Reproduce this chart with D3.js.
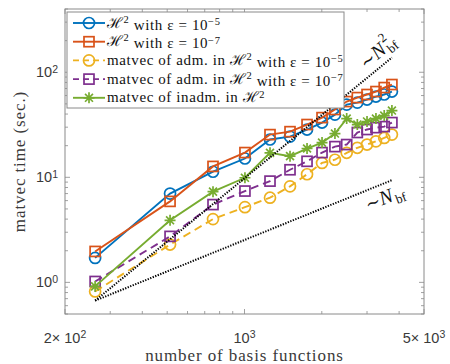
<!DOCTYPE html>
<html>
<head>
<meta charset="utf-8">
<script src="https://cdn.jsdelivr.net/npm/d3@7"></script>
<style>
  html, body { margin: 0; padding: 0; background: #fff; }
  svg { display: block; }
</style>
</head>
<body>
<div class="chart_wrapper"></div>
<script>
// number of basis functions (x) and timings (y, seconds)
const nbf = [262, 513, 754, 1004, 1257, 1504, 1752, 2004, 2250, 2500, 2750, 3000, 3250, 3500, 3750]
const h2Eps5 = [1.71, 7.0, 11.3, 15.1, 22.9, 24.4, 28.5, 33.2, 39.5, 49.2, 51.4, 55, 58.7, 61.4, 65.5]
const h2Eps7 = [1.97, 5.9, 12.7, 17.2, 25.5, 27.2, 31.8, 37, 44.2, 52.6, 57.4, 61.4, 65.5, 71.5, 76.4]
const admEps5 = [0.82, 2.29, 4.0, 5.2, 6.4, 8.2, 10.7, 13.7, 14.7, 17.1, 19.1, 20.5, 22, 23.7, 25.5]
const admEps7 = [1.02, 2.74, 5.5, 7.4, 9.2, 11.8, 14.2, 17.2, 19.6, 20.5, 26.7, 28.5, 29.7, 30.4, 33.2]
const inadm = [0.916, 3.9, 7.3, 9.9, 17.1, 15.9, 18.8, 21.4, 26.1, 36.2, 31.8, 34, 36.2, 38.7, 43.2]

// reference slopes, end points
const refX = [262, 3750]
const refN2 = [0.67, 138]
const refN = [0.67, 9.4]

const legendLabels = [
    'ℋ^{2} with ε = 10^{−5}',
    'ℋ^{2} with ε = 10^{−7}',
    'matvec of adm. in ℋ^{2} with ε = 10^{−5}',
    'matvec of adm. in ℋ^{2} with ε = 10^{−7}',
    'matvec of inadm. in ℋ^{2}'
]
const xTickVals = [200, 1000, 5000]
const xTickLabels = ['2× 10^{2}', '10^{3}', '5× 10^{3}']
const yTickVals = [1, 10, 100]
const yTickLabels = ['10^{0}', '10^{1}', '10^{2}']

const series = [
    { values: h2Eps5, color: '#0072BD', marker: 'circle', dash: null },
    { values: h2Eps7, color: '#D95319', marker: 'square', dash: null },
    { values: admEps5, color: '#EDB120', marker: 'circle', dash: '8,5' },
    { values: admEps7, color: '#7E2F8E', marker: 'square', dash: '8,5' },
    { values: inadm, color: '#77AC30', marker: 'star', dash: null }
]

const width = 450
const height = 364
const margin = { left: 65, right: 26, top: 9, bottom: 50 }
const axisColor = '#8a8a8a'
const textColor = '#3a3a3a'
const serif = '"Liberation Serif", "DejaVu Serif", serif'
const sans = '"Liberation Sans", Arial, sans-serif'

const x = d3.scaleLog().domain([200, 5000]).range([margin.left, width - margin.right])
const y = d3.scaleLog().domain([0.5, 400]).range([height - margin.bottom, margin.top])

const svg = d3.select('.chart_wrapper').append('svg')
    .attr('width', width).attr('height', height)

// writes "a^{b}" strings as tspans
function richText(sel, str, supSize) {
    const parts = str.split(/\^\{([^}]*)\}/)
    parts.forEach((p, i) => {
        if (!p) return
        const sup = i % 2 === 1
        const t = sel.append('tspan').text(p)
        if (sup) {
            t.attr('font-size', supSize).attr('dy', '-0.45em')
        } else if (i > 0) {
            t.attr('dy', '0.45em')
        }
    })
}

const x0 = margin.left, x1 = width - margin.right
const y0 = height - margin.bottom, y1 = margin.top

// ticks (inward, on all four sides)
const ticksG = svg.append('g').attr('stroke', axisColor).attr('stroke-width', 0.8)
const xMinor = x.ticks().filter(v => v >= 200 && v <= 5000)
xMinor.forEach(v => {
    const len = xTickVals.includes(v) ? 5 : 3
    ticksG.append('line').attr('x1', x(v)).attr('x2', x(v)).attr('y1', y0).attr('y2', y0 - len)
    ticksG.append('line').attr('x1', x(v)).attr('x2', x(v)).attr('y1', y1).attr('y2', y1 + len)
})
const yMinor = y.ticks().filter(v => v >= 0.5 && v <= 400)
yMinor.forEach(v => {
    const len = yTickVals.includes(v) ? 5 : 3
    ticksG.append('line').attr('y1', y(v)).attr('y2', y(v)).attr('x1', x0).attr('x2', x0 + len)
    ticksG.append('line').attr('y1', y(v)).attr('y2', y(v)).attr('x1', x1).attr('x2', x1 - len)
})

// box
svg.append('rect')
    .attr('x', x0).attr('y', y1).attr('width', x1 - x0).attr('height', y0 - y1)
    .attr('fill', 'none').attr('stroke', axisColor).attr('stroke-width', 1)

// tick labels
const xLab = svg.append('g').attr('font-family', sans).attr('font-size', 14.5).attr('fill', textColor)
    .attr('text-anchor', 'middle')
xTickVals.forEach((v, i) => {
    const t = xLab.append('text').attr('x', x(v)).attr('y', y0 + 29)
    richText(t, xTickLabels[i], 10.5)
})
const yLab = svg.append('g').attr('font-family', sans).attr('font-size', 14.5).attr('fill', textColor)
    .attr('text-anchor', 'end')
yTickVals.forEach((v, i) => {
    const t = yLab.append('text').attr('x', x0 - 7).attr('y', y(v) + 5)
    richText(t, yTickLabels[i], 10.5)
})

// axis titles
svg.append('text')
    .attr('x', (x0 + x1) / 2).attr('y', height - 3)
    .attr('text-anchor', 'middle').attr('font-family', serif).attr('font-size', 17)
    .attr('letter-spacing', 0.9).attr('fill', textColor)
    .text('number of basis functions')
svg.append('text')
    .attr('transform', `translate(25,${(y0 + y1) / 2}) rotate(-90)`)
    .attr('text-anchor', 'middle').attr('font-family', serif).attr('font-size', 17)
    .attr('letter-spacing', 0.9).attr('fill', textColor)
    .text('matvec time (sec.)')

// markers
function drawMarker(g, kind, cx, cy, color) {
    if (kind === 'circle') {
        g.append('circle').attr('cx', cx).attr('cy', cy).attr('r', 5.5)
            .attr('fill', 'none').attr('stroke', color).attr('stroke-width', 1.7)
    } else if (kind === 'square') {
        g.append('rect').attr('x', cx - 5).attr('y', cy - 5).attr('width', 10).attr('height', 10)
            .attr('fill', 'none').attr('stroke', color).attr('stroke-width', 1.7)
    } else {
        const r = 5.5, d = r * 0.72
        g.append('path')
            .attr('d', `M${cx - r},${cy}H${cx + r}M${cx},${cy - r}V${cy + r}` +
                `M${cx - d},${cy - d}L${cx + d},${cy + d}M${cx - d},${cy + d}L${cx + d},${cy - d}`)
            .attr('stroke', color).attr('stroke-width', 1.7).attr('fill', 'none')
    }
}

const line = d3.line().x(d => x(d[0])).y(d => y(d[1]))
const plotG = svg.append('g')
series.forEach(s => {
    const pts = nbf.map((n, i) => [n, s.values[i]])
    plotG.append('path').datum(pts)
        .attr('d', line)
        .attr('fill', 'none').attr('stroke', s.color).attr('stroke-width', 1.9)
        .attr('stroke-dasharray', s.dash)
    const mg = plotG.append('g')
    pts.forEach(p => drawMarker(mg, s.marker, x(p[0]), y(p[1]), s.color))
})

// reference slopes
const refG = svg.append('g')
;[refN2, refN].forEach(r => {
    refG.append('path').datum(refX.map((n, i) => [n, r[i]]))
        .attr('d', line)
        .attr('fill', 'none').attr('stroke', '#000').attr('stroke-width', 2)
        .attr('stroke-dasharray', '1.3,1.4')
})

// slope annotations
function slopeLabel(px, py, angle, sup) {
    const g = svg.append('g').attr('transform', `translate(${px},${py}) rotate(${angle})`)
        .attr('font-family', serif).attr('fill', '#111')
    g.append('text').attr('x', 0).attr('y', 0).attr('font-size', 18).text('∼')
    g.append('text').attr('x', 15).attr('y', 0).attr('font-size', 20).attr('font-style', 'italic').text('N')
    g.append('text').attr('x', 30).attr('y', 4).attr('font-size', 13).text('bf')
    if (sup) g.append('text').attr('x', 30).attr('y', -10).attr('font-size', 13).text(sup)
}
slopeLabel(366, 70, -40, '2')
slopeLabel(368, 211, -21, null)

// legend
const lg = svg.append('g')
const lx = 67, ly = 12, lw = 277, lh = 96, rowH = 18.7
lg.append('rect').attr('x', lx).attr('y', ly).attr('width', lw).attr('height', lh)
    .attr('fill', '#fff').attr('stroke', axisColor).attr('stroke-width', 1)
series.forEach((s, i) => {
    const cy = ly + 11 + i * rowH
    lg.append('line').attr('x1', lx + 6).attr('x2', lx + 38).attr('y1', cy).attr('y2', cy)
        .attr('stroke', s.color).attr('stroke-width', 1.9).attr('stroke-dasharray', s.dash ? '6,4' : null)
    drawMarker(lg, s.marker, lx + 22, cy, s.color)
    const t = lg.append('text').attr('x', lx + 40).attr('y', cy + 4.5)
        .attr('font-family', serif).attr('font-size', 15).attr('letter-spacing', 0.6).attr('fill', '#111')
    richText(t, legendLabels[i], 10.5)
})
</script>
</body>
</html>
